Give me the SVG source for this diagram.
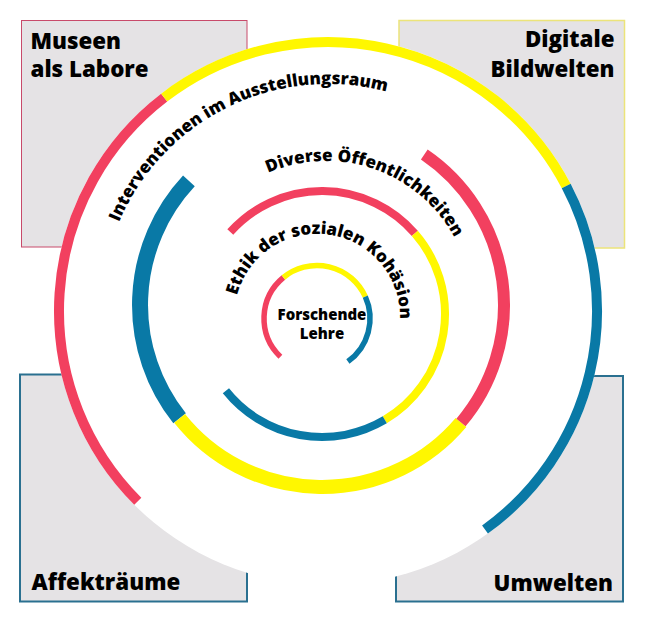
<svg xmlns="http://www.w3.org/2000/svg" width="646" height="622" viewBox="0 0 646 622">
<style>
  .box { fill: #e5e3e5; }
  .lbl { font-family: "Open Sans", "Noto Sans", "Liberation Sans", sans-serif; font-weight: 800; font-size: 22.3px; fill: #000; }
  .arc { fill: none; stroke-linecap: butt; }
  .r { stroke: #f2405f; }
  .y { stroke: #fff700; }
  .b { stroke: #0979a6; }
  .ctext { font-family: "Open Sans", "Noto Sans", "Liberation Sans", sans-serif; font-weight: 800; font-size: 17px; fill: #000; }
  .center { font-family: "Open Sans", "Noto Sans", "Liberation Sans", sans-serif; font-weight: 800; font-size: 15px; fill: #000; }
</style>
<defs>
  <path id="p1" d="M101.5,295.2 A227,227 0 0 1 454.9,122.8"/>
  <path id="p2" d="M230.4,196.6 A146,146 0 0 1 469.4,279.4"/>
  <path id="p3" d="M235.6,300.9 A83,83 0 0 1 399.7,324.5"/>
</defs>
<rect width="646" height="622" fill="#fff"/>
<g id="museen-als-labore">
  <rect class="box" x="21.5" y="20.5" width="225.5" height="226.5" stroke="#c84a6a" stroke-width="1"/>
  <text class="lbl" x="30.5" y="48.5">Museen</text>
  <text class="lbl" x="30.5" y="77">als Labore</text>
</g>
<g id="digitale-bildwelten">
  <rect class="box" x="399" y="20.5" width="225.5" height="227.5" stroke="#ece47a" stroke-width="1.5"/>
  <text class="lbl" x="614.5" y="47" text-anchor="end">Digitale</text>
  <text class="lbl" x="614.5" y="77" text-anchor="end">Bildwelten</text>
</g>
<g id="affektraeume">
  <rect class="box" x="20" y="374.5" width="227" height="227" stroke="#2a7090" stroke-width="2"/>
  <text class="lbl" x="31.5" y="589.5">Affekträume</text>
</g>
<g id="umwelten">
  <rect class="box" x="396" y="376" width="227" height="225.5" stroke="#2a7090" stroke-width="2"/>
  <text class="lbl" x="613" y="590.5" text-anchor="end">Umwelten</text>
</g>
<circle cx="328" cy="311" r="274" fill="#fff"/>
<g id="connectors">
<g id="ring-interventionen">
  <path class="arc r" stroke-width="10" d="M137.8,501.2 A269,269 0 0 1 164.2,97.6"/>
  <path class="arc y" stroke-width="10" d="M164.2,97.6 A269,269 0 0 1 566.2,186.0"/>
  <path class="arc b" stroke-width="10" d="M566.2,186.0 A269,269 0 0 1 485.0,529.5"/>
  <text class="ctext"><textPath href="#p1" startOffset="50%" text-anchor="middle">Interventionen im Ausstellungsraum</textPath></text>
</g>
<g id="ring-oeffentlichkeiten">
  <path class="arc b" stroke-width="16" d="M179.6,418.3 A182,182 0 0 1 188.9,180.9"/>
  <path class="arc y" stroke-width="14" d="M461.0,422.5 A182,182 0 0 1 179.6,418.3"/>
  <path class="arc r" stroke-width="12" d="M424.3,154.5 A182,182 0 0 1 461.0,422.5"/>
  <text class="ctext"><textPath href="#p2" startOffset="50%" text-anchor="middle">Diverse Öffentlichkeiten</textPath></text>
</g>
<g id="ring-ethik">
  <path class="arc r" stroke-width="8" d="M230.3,232.0 A123,123 0 0 1 414.8,233.3"/>
  <path class="arc y" stroke-width="8" d="M414.8,233.3 A123,123 0 0 1 384.8,419.8"/>
  <path class="arc b" stroke-width="8" d="M384.8,419.8 A123,123 0 0 1 225.9,390.7"/>
  <text class="ctext"><textPath href="#p3" startOffset="50%" text-anchor="middle">Ethik der sozialen Kohäsion</textPath></text>
</g>
</g>
<g id="forschende-lehre">
  <path class="arc r" stroke-width="5.5" d="M280.4,356.8 A53,53 0 0 1 283.4,277.5"/>
  <path class="arc y" stroke-width="5.5" d="M283.4,277.5 A53,53 0 0 1 365.3,296.7"/>
  <path class="arc b" stroke-width="5.5" d="M365.3,296.7 A53,53 0 0 1 347.9,361.6"/>
  <text class="center" x="322" y="320" text-anchor="middle">Forschende</text>
  <text class="center" x="322" y="339" text-anchor="middle">Lehre</text>
</g>
</svg>
